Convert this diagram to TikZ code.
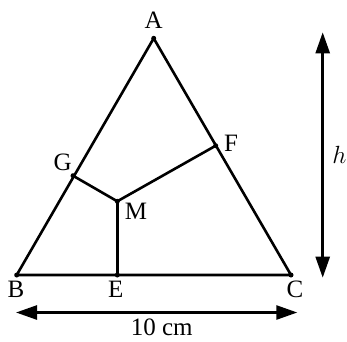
\documentclass[tikz,border=0pt]{standalone}
\usepackage{fontspec}
\setmainfont{Liberation Serif}
\usepackage{tikz}
\usetikzlibrary{arrows.meta,positioning}

\begin{document}
\begin{tikzpicture}[x=1pt,y=-1pt,font=\fontsize{25}{27}\selectfont,
  seg/.style={line width=2.6pt,line cap=round,line join=round},
  dot/.style={circle,fill,inner sep=0pt,minimum size=5pt},
  dimline/.style={line width=2.6pt,{Triangle[length=21pt,width=14pt]}-{Triangle[length=21pt,width=14pt]}},
  lbl/.style={inner sep=0pt}]
\useasboundingbox (0,0) rectangle (347,341);
% points of the triangle
\node[dot] (A) at (153.7,38.3) {};
\node[dot] (B) at (16.7,275) {};
\node[dot] (C) at (291,275) {};
\node[dot] (E) at (117.3,275) {};
\node[dot] (M) at (117.3,201.3) {};
\node[dot] (G) at (73,175.7) {};
\node[dot] (F) at (215.7,145.7) {};
% dimension ends
\coordinate (h1) at (322.7,32.3);
\coordinate (h2) at (322.7,277.7);
\coordinate (w1) at (16,312.5);
\coordinate (w2) at (297.3,312.5);
% labels
\node[lbl] (lA) at (153.7,20.5) {A};
\node[lbl] (lB) at (16,289.5) {B};
\node[lbl] (lE) at (115.7,289.5) {E};
\node[lbl] (lC) at (295,289.5) {C};
\node[lbl] (lG) at (62.7,162.5) {G};
\node[lbl] (lF) at (231,143) {F};
\node[lbl] (lM) at (136,211) {M};
\node[lbl] (lh) at (339.5,155) {$h$};
\node[lbl] (lw) at (161.7,327.5) {10 cm};
% lines
\draw[seg] (A.center) -- (B.center) -- (C.center) -- cycle;
\draw[seg] (G.center) -- (M.center) -- (F.center);
\draw[seg] (M.center) -- (E.center);
\draw[dimline] (h1) -- (h2);
\draw[dimline] (w1) -- (w2);
\end{tikzpicture}
\end{document}
